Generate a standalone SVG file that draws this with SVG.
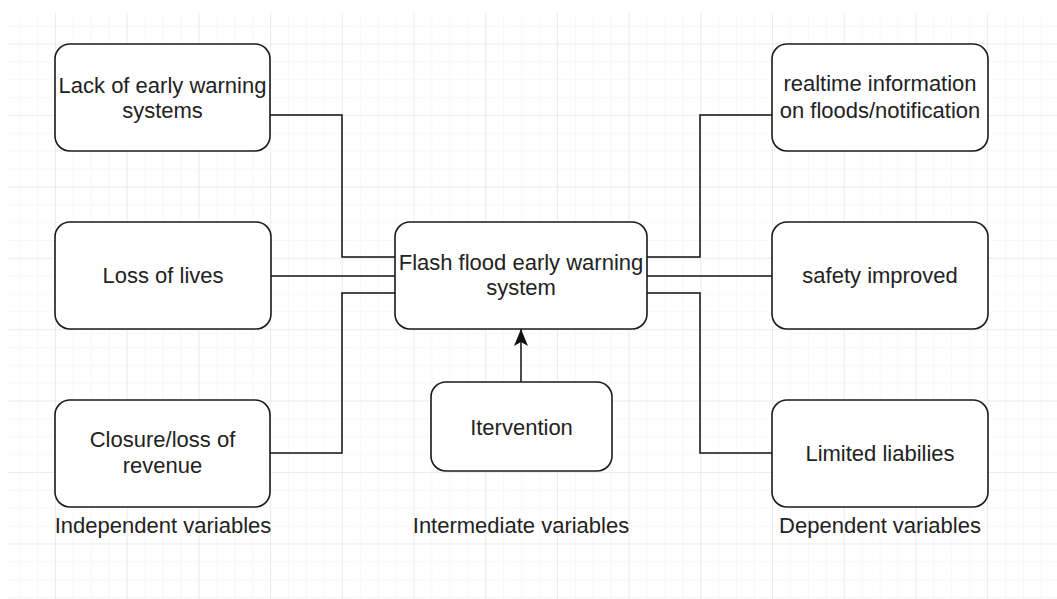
<svg xmlns="http://www.w3.org/2000/svg" width="1057" height="599" viewBox="0 0 1057 599">
  <style>
    .node rect { fill: #ffffff; stroke: #1a1a1a; stroke-width: 1.6; }
    .node text, .label { font-family: "Liberation Sans", Arial, sans-serif; font-size: 22px; fill: #222222; text-anchor: middle; }
    .conn { fill: none; stroke: #111111; stroke-width: 1.5; }
  </style>
  <defs>
    <pattern id="minor" patternUnits="userSpaceOnUse" x="55" y="115" width="17.925" height="17.85">
      <path d="M0 0 V17.85 M0 0 H17.925" fill="none" stroke="#f1f1f1" stroke-width="1"/>
    </pattern>
    <pattern id="major" patternUnits="userSpaceOnUse" x="55" y="115" width="71.7" height="71.4">
      <path d="M0 0 V71.4 M0 0 H71.7" fill="none" stroke="#e0e0e0" stroke-width="1"/>
    </pattern>
    <marker id="arrow" viewBox="0 0 17 14" refX="17" refY="7" markerWidth="17" markerHeight="14" markerUnits="userSpaceOnUse" orient="auto">
      <path d="M0 0 L17 7 L0 14 L4 7 Z" fill="#111111"/>
    </marker>
  </defs>
  <rect x="0" y="0" width="1057" height="599" fill="#ffffff"/>
  <g id="grid">
    <rect x="8" y="13" width="1049" height="586" fill="url(#minor)"/>
    <rect x="8" y="13" width="1049" height="586" fill="url(#major)"/>
  </g>
  <g id="connectors">
    <path class="conn" d="M270 115 H342 V257 H395"/>
    <path class="conn" d="M271 276 H395"/>
    <path class="conn" d="M270 453 H342 V293 H395"/>
    <path class="conn" d="M647 257 H700 V115 H772"/>
    <path class="conn" d="M647 276 H772"/>
    <path class="conn" d="M647 293 H700 V453 H772"/>
    <path class="conn" d="M521 382 V329" marker-end="url(#arrow)"/>
  </g>
  <g id="lack" class="node">
    <rect x="55" y="44" width="215" height="107" rx="15"/>
    <text x="162.5" y="93">Lack of early warning</text>
    <text x="162.5" y="118">systems</text>
  </g>
  <g id="loss" class="node">
    <rect x="55" y="222" width="216" height="107" rx="15"/>
    <text x="163" y="283">Loss of lives</text>
  </g>
  <g id="closure" class="node">
    <rect x="55" y="400" width="215" height="107" rx="15"/>
    <text x="162.5" y="447">Closure/loss of</text>
    <text x="162.5" y="473">revenue</text>
  </g>
  <g id="center" class="node">
    <rect x="395" y="222" width="252" height="107" rx="15"/>
    <text x="521" y="270">Flash flood early warning</text>
    <text x="521" y="295">system</text>
  </g>
  <g id="intervention" class="node">
    <rect x="431" y="382" width="181" height="89" rx="15"/>
    <text x="521.5" y="435">Itervention</text>
  </g>
  <g id="realtime" class="node">
    <rect x="772" y="44" width="216" height="107" rx="15"/>
    <text x="880" y="91">realtime information</text>
    <text x="880" y="118">on floods/notification</text>
  </g>
  <g id="safety" class="node">
    <rect x="772" y="222" width="216" height="107" rx="15"/>
    <text x="880" y="283">safety improved</text>
  </g>
  <g id="limited" class="node">
    <rect x="772" y="400" width="216" height="107" rx="15"/>
    <text x="880" y="461">Limited liabilies</text>
  </g>
  <g id="labels">
    <text class="label" x="163" y="533">Independent variables</text>
    <text class="label" x="521" y="533">Intermediate variables</text>
    <text class="label" x="880" y="533">Dependent variables</text>
  </g>
</svg>
